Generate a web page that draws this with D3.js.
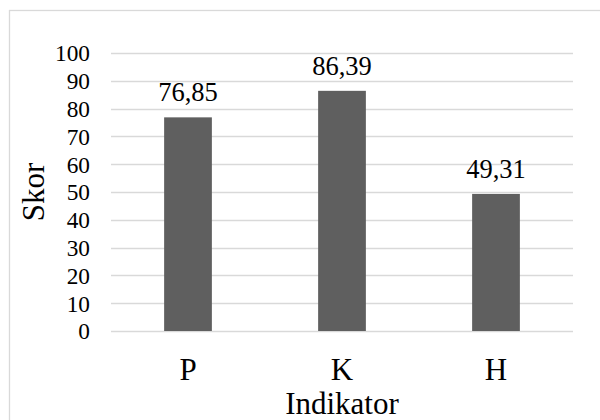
<!DOCTYPE html>
<html>
<head>
<meta charset="utf-8">
<script src="https://cdn.jsdelivr.net/npm/d3@7"></script>
<style>
  html, body { margin: 0; padding: 0; background: #fff; }
  svg { display: block; }
</style>
</head>
<body>
<script>
const categories = ["P", "K", "H"];
const values = [76.85, 86.39, 49.31];
const valueLabels = ["76,85", "86,39", "49,31"];
const yTicks = [0, 10, 20, 30, 40, 50, 60, 70, 80, 90, 100];
const xTitle = "Indikator";
const yTitle = "Skor";

const FONT = "'Liberation Serif', 'Times New Roman', Times, serif";
const W = 600, H = 420;
const svg = d3.select("body").append("svg").attr("width", W).attr("height", H)
  .style("font-family", FONT);

// outer chart border
svg.append("rect")
  .attr("x", 9.5).attr("y", 10.5)
  .attr("width", 600).attr("height", 420)
  .attr("fill", "#fff").attr("stroke", "#d9d9d9").attr("stroke-width", 1.3);

const plot = { left: 111, right: 573, top: 53, bottom: 331 };

const x = d3.scaleBand().domain(categories)
  .range([plot.left, plot.right])
  .paddingInner(0.69).paddingOuter(0.345);
const y = d3.scaleLinear().domain([0, 100]).range([plot.bottom, plot.top]);

// gridlines
svg.append("g").selectAll("line").data(yTicks).join("line")
  .attr("x1", plot.left).attr("x2", plot.right)
  .attr("y1", d => Math.round(y(d)) + 0.5).attr("y2", d => Math.round(y(d)) + 0.5)
  .attr("stroke", "#d9d9d9").attr("stroke-width", 1.3);

// y axis tick labels
const yAxis = d3.axisLeft(y).tickValues(yTicks).tickSize(0).tickPadding(0);
const gy = svg.append("g").attr("transform", `translate(90,0)`).call(yAxis)
  .attr("font-family", null).style("font-family", FONT);
gy.select(".domain").remove();
gy.selectAll("text")
  .style("font-family", FONT)
  .attr("font-size", 23.3).attr("fill", "#000").attr("dy", "0.34em");

// bars
svg.append("g").selectAll("rect").data(categories).join("rect")
  .attr("x", d => x(d))
  .attr("width", x.bandwidth())
  .attr("y", (d, i) => y(values[i]))
  .attr("height", (d, i) => y(0) - y(values[i]))
  .attr("fill", "#5f5f5f");

// data labels
svg.append("g").selectAll("text").data(categories).join("text")
  .attr("x", d => x(d) + x.bandwidth() / 2)
  .attr("y", (d, i) => y(values[i]) - 16)
  .attr("text-anchor", "middle")
  .style("font-family", FONT)
  .attr("font-size", 26.5)
  .text((d, i) => valueLabels[i]);

// x axis category labels
const xAxis = d3.axisBottom(x).tickSize(0).tickPadding(0);
const gx = svg.append("g").attr("transform", `translate(0,${plot.bottom})`).call(xAxis)
  .attr("font-family", null).style("font-family", FONT);
gx.select(".domain").remove();
gx.selectAll("text")
  .style("font-family", FONT)
  .attr("font-size", 31).attr("fill", "#000")
  .attr("dy", null).attr("y", 49);

// axis titles
svg.append("text")
  .attr("x", (plot.left + plot.right) / 2).attr("y", 414)
  .attr("text-anchor", "middle").attr("font-size", 31)
  .style("font-family", FONT)
  .text(xTitle);

svg.append("text")
  .attr("transform", `translate(44,${(plot.top + plot.bottom) / 2}) rotate(-90)`)
  .attr("text-anchor", "middle").attr("font-size", 31)
  .style("font-family", FONT)
  .text(yTitle);
</script>
</body>
</html>
